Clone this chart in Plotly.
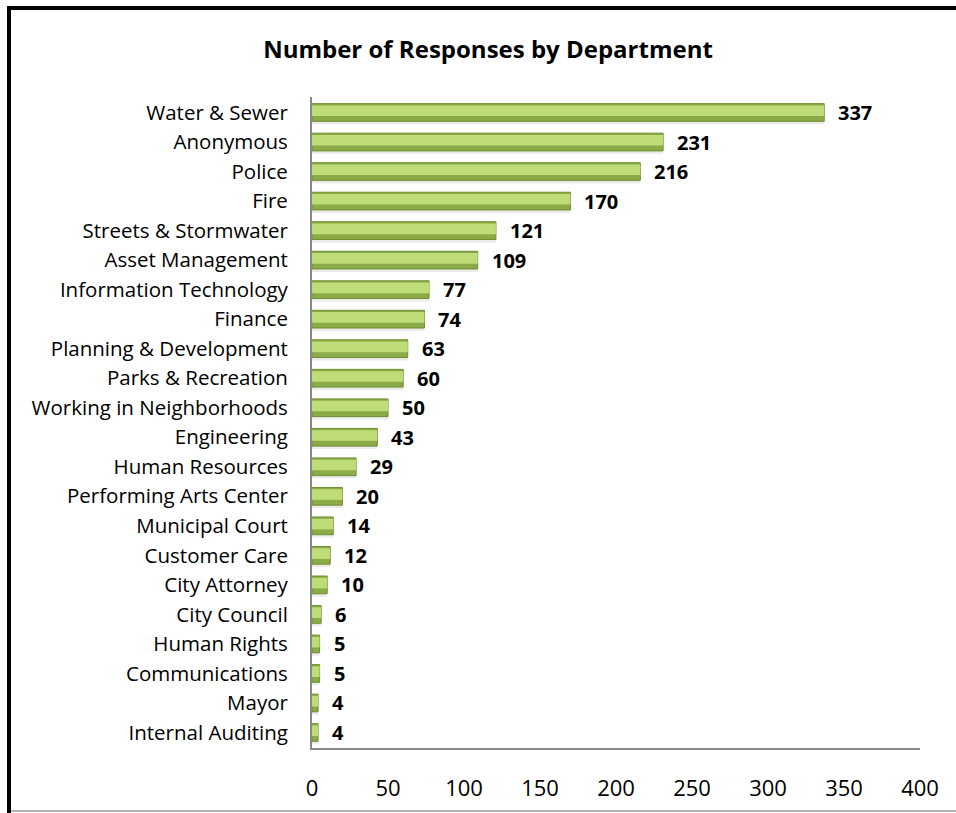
import plotly.graph_objects as go

departments = ["Water & Sewer", "Anonymous", "Police", "Fire", "Streets & Stormwater",
               "Asset Management", "Information Technology", "Finance", "Planning & Development",
               "Parks & Recreation", "Working in Neighborhoods", "Engineering", "Human Resources",
               "Performing Arts Center", "Municipal Court", "Customer Care", "City Attorney",
               "City Council", "Human Rights", "Communications", "Mayor", "Internal Auditing"]
responses = [337, 231, 216, 170, 121, 109, 77, 74, 63, 60, 50, 43, 29, 20, 14, 12, 10, 6, 5, 5, 4, 4]
x_ticks = [0, 50, 100, 150, 200, 250, 300, 350, 400]

W, H = 956, 813
ML, MR, MT, MB = 312, 36, 97, 65
pw = W - ML - MR
ph = H - MT - MB

FONT = "Open Sans"

fig = go.Figure()
# soft shadow under bars
fig.add_trace(go.Bar(
    y=departments, x=responses, orientation="h",
    marker=dict(color="rgba(0,0,0,0.08)", line=dict(width=0)),
    hoverinfo="skip", showlegend=False, width=0.7, offset=-0.3,
))
# darker base bar (edge)
fig.add_trace(go.Bar(
    y=departments, x=responses, orientation="h",
    marker=dict(color="#8aab47", line=dict(color="#6f8f30", width=1)),
    hoverinfo="skip", showlegend=False, width=0.6, offset=-0.3,
))
# lighter highlight bar
fig.add_trace(go.Bar(
    y=departments, x=responses, orientation="h",
    marker=dict(color="#bedd78", line=dict(width=0)),
    showlegend=False, width=0.36, offset=-0.24,
))

annotations = []
for d, v in zip(departments, responses):
    annotations.append(dict(x=v, y=d, xref="x", yref="y", text="<b>%d</b>" % v,
                            showarrow=False, xanchor="left", xshift=12,
                            font=dict(family=FONT, size=20, color="black")))

def px2x(px):
    return (px - ML) / pw

def py2y(py):
    return (H - MB - py) / ph

shapes = [
    dict(type="line", xref="paper", yref="paper", x0=px2x(9), x1=px2x(9), y0=py2y(6), y1=py2y(813),
         line=dict(color="black", width=4)),
    dict(type="line", xref="paper", yref="paper", x0=px2x(7), x1=px2x(956), y0=py2y(8), y1=py2y(8),
         line=dict(color="black", width=4)),
    dict(type="line", xref="paper", yref="paper", x0=px2x(11), x1=px2x(956), y0=py2y(811), y1=py2y(811),
         line=dict(color="#999999", width=1.5)),
]

fig.update_layout(
    width=W, height=H,
    margin=dict(l=ML, r=MR, t=MT, b=MB),
    paper_bgcolor="white", plot_bgcolor="white",
    barmode="overlay",
    title=dict(text="<b>Number of Responses by Department</b>", x=488 / W, xanchor="center",
               y=1 - 50 / H, yanchor="middle", font=dict(family=FONT, size=24, color="black")),
    xaxis=dict(range=[0, 400], tickvals=x_ticks, showgrid=False, zeroline=False,
               showline=True, linecolor="#888888", linewidth=2, ticks="",
               tickfont=dict(family=FONT, size=22, color="black"), ticklabelstandoff=20),
    yaxis=dict(autorange="reversed", showgrid=False, zeroline=False, showline=True,
               linecolor="#888888", linewidth=2, ticks="",
               tickfont=dict(family=FONT, size=20.5, color="black"), ticklabelstandoff=18),
    annotations=annotations,
    shapes=shapes,
    font=dict(family=FONT),
)

fig.write_html("out.html", config={"displayModeBar": False},
               post_script="document.body.style.margin='0';document.body.style.overflow='hidden';")
